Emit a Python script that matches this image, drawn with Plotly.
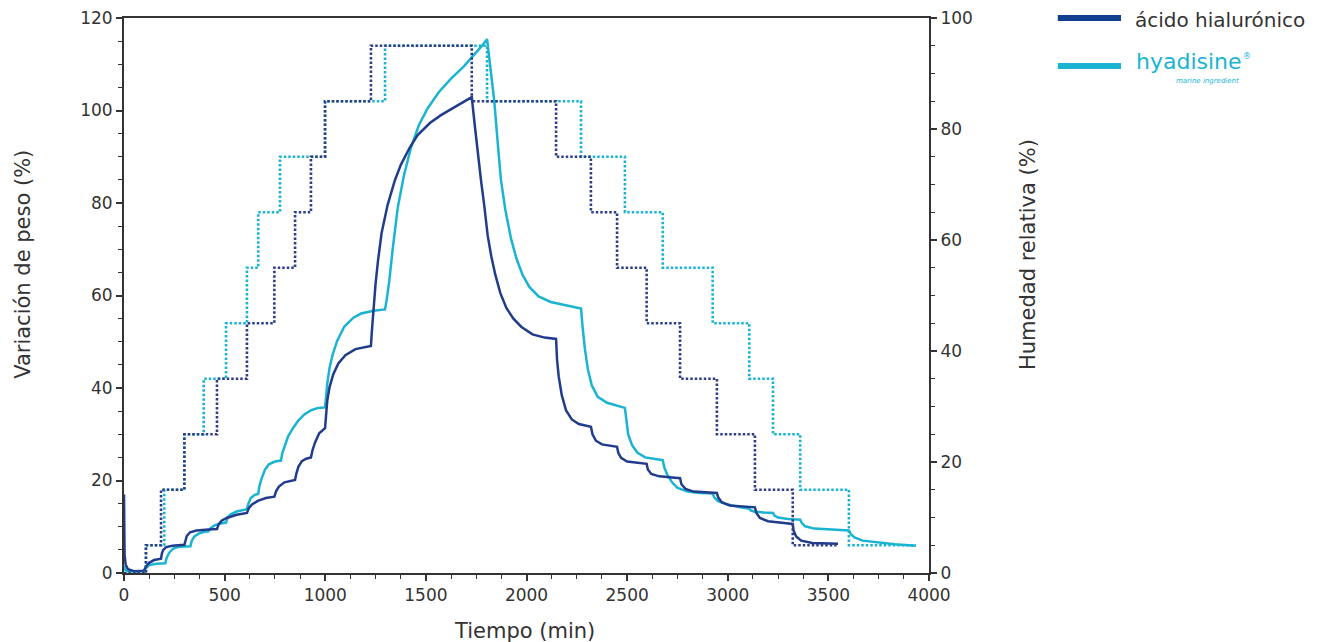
import plotly.graph_objects as go

# weight change (%) vs time (min)
ha_time = [0, 3, 8, 20, 50, 100, 109, 125, 150, 184, 188, 195, 210, 240, 300, 305, 312, 328, 360, 420, 462,
           470, 485, 510, 560, 611, 620, 636, 665, 705, 747, 756, 770, 797, 850, 857, 867, 884, 905, 929,
           937, 950, 970, 999, 1003, 1010, 1022, 1040, 1065, 1100, 1150, 1227, 1232, 1240, 1250, 1262, 1280,
           1310, 1345, 1376, 1420, 1459, 1520, 1575, 1650, 1728, 1745, 1760, 1775, 1790, 1807, 1825, 1845,
           1870, 1900, 1935, 1975, 2030, 2090, 2147, 2152, 2160, 2175, 2196, 2225, 2260, 2320, 2328, 2345,
           2375, 2450, 2456, 2470, 2500, 2550, 2597, 2603, 2620, 2660, 2763, 2770, 2790, 2830, 2946, 2953,
           2970, 3010, 3135, 3142, 3160, 3200, 3323, 3327, 3340, 3365, 3420, 3548]
ha_weight = [17, 4, 1.8, 0.8, 0.4, 0.5, 1.4, 2.2, 2.8, 3.1, 4.2, 5.0, 5.6, 5.9, 6.1, 7.2, 8.0, 8.8, 9.2, 9.4, 9.5,
             10.5, 11.3, 11.9, 12.6, 13.0, 14.0, 14.8, 15.6, 16.2, 16.5, 17.7, 18.7, 19.6, 20.1, 21.6, 23.0, 24.2,
             24.7, 25.0, 26.6, 28.3, 30.2, 31.3, 34.0, 37.3, 40.3, 43.0, 45.3, 47.1, 48.4, 49.1, 52.5, 57.5, 62.5,
             67.5, 73.5, 79.6, 84.8, 88.3, 92.0, 94.7, 97.3, 99.0, 101.0, 102.9, 96, 90, 84.5, 79.5, 73.0, 68.5,
             64.5, 60.5, 57.3, 55.0, 53.2, 51.6, 50.9, 50.6, 46, 42.5, 38.5, 35.2, 33.2, 32.2, 31.6, 30.0, 28.6,
             27.8, 27.3, 26.0, 24.9, 24.1, 23.8, 23.6, 22.4, 21.4, 20.9, 20.5, 19.2, 18.2, 17.6, 17.3, 16.3, 15.3,
             14.6, 14.2, 13.0, 11.9, 11.2, 10.6, 9.2, 7.9, 7.0, 6.5, 6.3]

hy_time = [0, 5, 20, 60, 95, 110, 125, 160, 205, 212, 225, 245, 275, 330, 337, 350, 375, 400, 420, 430, 450,
           480, 507, 515, 530, 560, 611, 618, 630, 650, 667, 672, 682, 700, 720, 750, 780, 786, 797, 815, 838,
           865, 896, 930, 965, 999, 1003, 1010, 1022, 1037, 1060, 1095, 1140, 1178, 1240, 1297, 1305, 1318,
           1335, 1360, 1390, 1426, 1465, 1509, 1565, 1625, 1690, 1741, 1775, 1804, 1820, 1840, 1857, 1873,
           1895, 1923, 1950, 1980, 2015, 2060, 2120, 2200, 2271, 2278, 2290, 2305, 2325, 2354, 2400, 2489,
           2495, 2505, 2525, 2552, 2590, 2640, 2677, 2685, 2700, 2725, 2751, 2800, 2860, 2925, 2932, 2950,
           2990, 3050, 3107, 3115, 3130, 3180, 3225, 3232, 3250, 3300, 3360, 3368, 3385, 3430, 3520, 3602,
           3612, 3630, 3670, 3740, 3830, 3935]
hy_weight = [1.5, 0.8, 0.4, 0.3, 0.4, 1.0, 1.7, 2.0, 2.1, 3.3, 4.4, 5.3, 5.7, 5.8, 7.0, 7.9, 8.6, 8.9, 9.0, 9.7,
             10.3, 10.7, 10.9, 12.0, 12.7, 13.3, 13.8, 15.0, 16.2, 16.9, 17.1, 18.6, 20.2, 22.3, 23.5, 24.1, 24.3,
             25.8, 27.4, 29.5, 31.2, 32.9, 34.3, 35.2, 35.7, 35.8, 37.5, 41.0, 44.5, 47.3, 50.3, 53.3, 55.2, 56.1,
             56.7, 57.0, 59.0, 63.1, 70.0, 78.9, 85.8, 92.0, 96.8, 100.5, 104.0, 106.9, 109.6, 112.0, 113.8, 115.4,
             109, 102.0, 93, 85, 78.5, 72.3, 68, 64.5, 61.8, 59.8, 58.6, 57.8, 57.2, 53.5, 48.5, 44.0, 40.5, 38.1,
             36.8, 35.7, 33.0, 30.0, 27.6, 26.0, 25.0, 24.6, 24.4, 22.8, 21.2, 19.5, 18.4, 17.6, 17.3, 17.2, 16.4,
             15.6, 14.9, 14.3, 13.9, 13.5, 13.3, 13.1, 13.0, 12.4, 12.0, 11.7, 11.5, 10.8, 10.1, 9.6, 9.4, 9.2,
             8.4, 7.7, 7.0, 6.6, 6.2, 5.9]

# relative humidity programme (%), step changes
ha_rh_time = [0, 109, 184, 300, 462, 611, 747, 850, 929, 999, 1227, 1728, 2147, 2320, 2450, 2597, 2763, 2946,
              3135, 3323, 3548]
ha_rh = [0, 5, 15, 25, 35, 45, 55, 65, 75, 85, 95, 85, 75, 65, 55, 45, 35, 25, 15, 5, 5]
hy_rh_time = [0, 109, 200, 300, 396, 507, 611, 667, 775, 999, 1297, 1804, 2271, 2489, 2677, 2925, 3107, 3225,
              3360, 3602, 3935]
hy_rh = [0, 5, 15, 25, 35, 45, 55, 65, 75, 85, 95, 85, 75, 65, 55, 45, 35, 25, 15, 5, 5]

DARK = '#223c8c'
CYAN = '#1ab4d2'
AXIS = '#333333'
FONT = 'DejaVu Sans'

fig = go.Figure()
fig.add_trace(go.Scatter(x=hy_rh_time, y=hy_rh, yaxis='y2', mode='lines', line_shape='hv',
                         line=dict(color=CYAN, width=2.6, dash='2.5px,2px'), showlegend=False))
fig.add_trace(go.Scatter(x=ha_rh_time, y=ha_rh, yaxis='y2', mode='lines', line_shape='hv',
                         line=dict(color='#2f3f86', width=2.6, dash='2.5px,2px'), showlegend=False))
fig.add_trace(go.Scatter(x=hy_time, y=hy_weight, mode='lines',
                         line=dict(color=CYAN, width=2.5), showlegend=False))
fig.add_trace(go.Scatter(x=ha_time, y=ha_weight, mode='lines',
                         line=dict(color=DARK, width=2.5), showlegend=False))

tickfont = dict(family=FONT, size=17, color=AXIS)
minor = dict(ticks='outside', ticklen=4, tickcolor=AXIS, tickwidth=1.2)
fig.update_layout(
    width=1333, height=642,
    margin=dict(l=116, r=412, t=10, b=77),
    paper_bgcolor='white', plot_bgcolor='white', showlegend=False,
    xaxis=dict(range=[0, 4000], dtick=500, showline=True, linecolor=AXIS, linewidth=2, mirror=True,
               ticks='outside', ticklen=6, tickwidth=1.5, tickcolor=AXIS, tickfont=tickfont,
               automargin=False, ticklabeloverflow='allow',
               showgrid=False, zeroline=False, minor=dict(dtick=125, **minor)),
    yaxis=dict(range=[0, 120], dtick=20, showline=True, linecolor=AXIS, linewidth=2,
               ticks='outside', ticklen=6, tickwidth=1.5, tickcolor=AXIS, tickfont=tickfont,
               automargin=False, ticklabeloverflow='allow',
               showgrid=False, zeroline=False, minor=dict(dtick=5, **minor)),
    yaxis2=dict(range=[0, 100], dtick=20, overlaying='y', side='right', showline=True, linecolor=AXIS,
                linewidth=2, ticks='outside', ticklen=6, tickwidth=1.5, tickcolor=AXIS, tickfont=tickfont,
                automargin=False, ticklabeloverflow='allow',
                showgrid=False, zeroline=False, minor=dict(dtick=5, **minor)),
)

title_font = dict(family=FONT, size=21, color=AXIS)
fig.add_annotation(text='Variación de peso (%)', xref='paper', yref='paper', x=-0.1255, y=0.557,
                   xanchor='center', yanchor='middle', textangle=-90, showarrow=False, font=title_font)
fig.add_annotation(text='Humedad relativa (%)', xref='paper', yref='paper', x=1.123, y=0.573,
                   xanchor='center', yanchor='middle', textangle=-90, showarrow=False, font=title_font)
fig.add_annotation(text='Tiempo (min)', xref='paper', yref='paper', x=0.497, y=-0.1043,
                   xanchor='center', yanchor='middle', showarrow=False, font=title_font)

# legend drawn by hand to match the original artwork
fig.add_shape(type='line', xref='paper', yref='paper', x0=1.160, x1=1.2385, y0=1.0, y1=1.0,
              line=dict(color='#123f8e', width=6))
fig.add_shape(type='line', xref='paper', yref='paper', x0=1.160, x1=1.2385, y0=0.9135, y1=0.9135,
              line=dict(color=CYAN, width=6))
fig.add_annotation(text='ácido hialurónico', xref='paper', yref='paper', x=1.2547, y=0.997,
                   xanchor='left', yanchor='middle', showarrow=False, borderpad=0,
                   font=dict(family=FONT, size=20, color=AXIS))
fig.add_annotation(text='hyadisine', xref='paper', yref='paper', x=1.2547, y=0.9213,
                   xanchor='left', yanchor='middle', showarrow=False,
                   font=dict(family=FONT, size=22, color=CYAN))
fig.add_annotation(text='®', xref='paper', yref='paper', x=1.3875, y=0.9315,
                   xanchor='left', yanchor='middle', showarrow=False,
                   font=dict(family=FONT, size=8, color=CYAN))
fig.add_annotation(text='<i>marine ingredient</i>', xref='paper', yref='paper', x=1.388, y=0.8872,
                   xanchor='right', yanchor='middle', showarrow=False,
                   font=dict(family=FONT, size=7, color=CYAN))

fig.write_html("out.html")
